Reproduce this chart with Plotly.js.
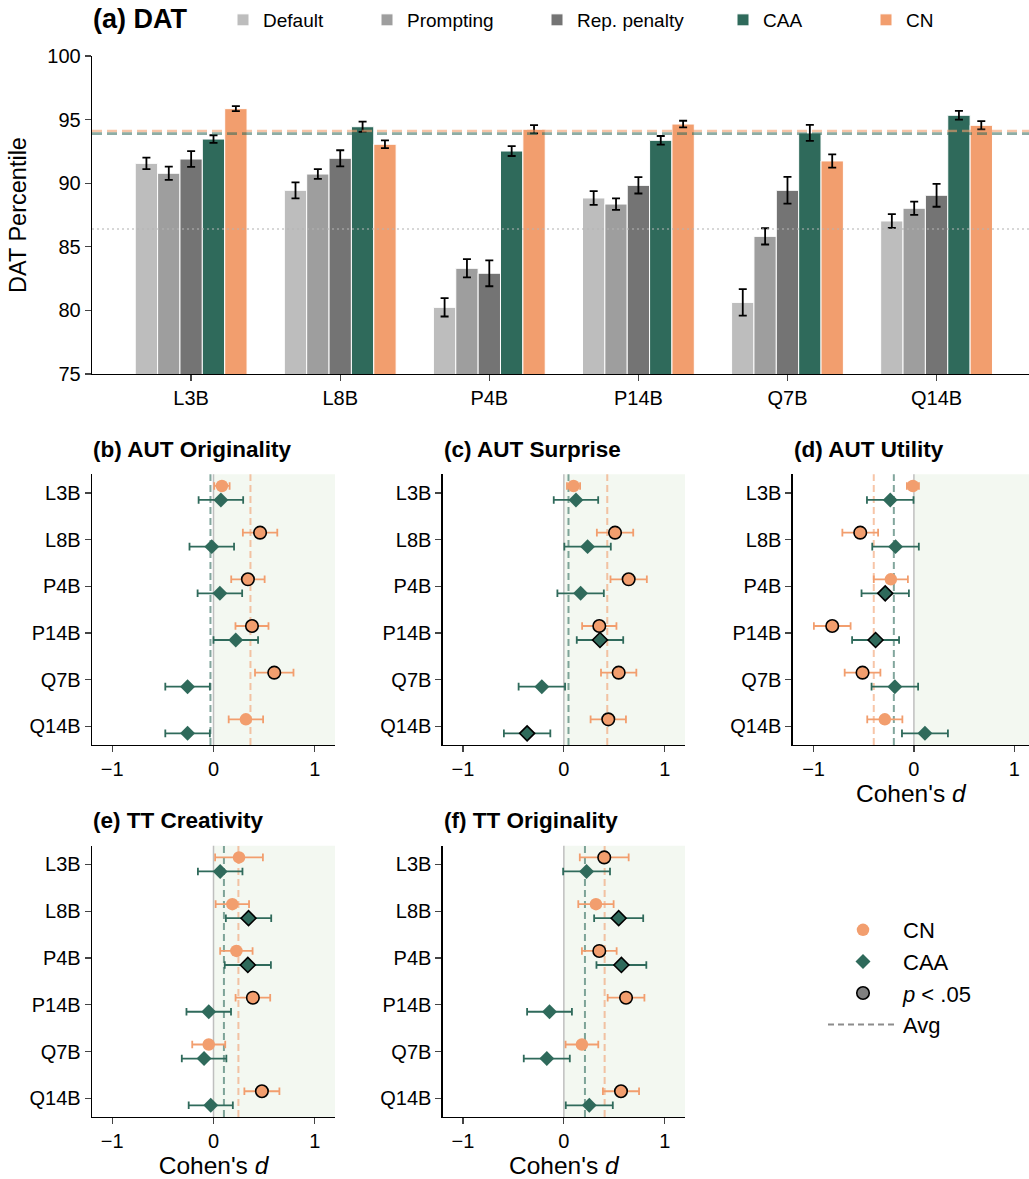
<!DOCTYPE html>
<html><head><meta charset="utf-8">
<script src="https://cdn.plot.ly/plotly-3.0.1.min.js"></script>
<style>html,body{margin:0;padding:0;background:#fff}#chart{width:1029px;height:1179px}</style>
</head><body><div id="chart"></div>
<script>
// ---------------- DATA ----------------
const models = ['L3B','L8B','P4B','P14B','Q7B','Q14B'];
const methods = ['Default','Prompting','Rep. penalty','CAA','CN'];

// (a) DAT percentile
const datDefault    = [91.56, 89.44, 80.24, 88.84, 80.63, 87.03];
const datDefaultErr = [0.45, 0.63, 0.72, 0.54, 1.04, 0.54];
const datPrompt     = [90.78, 90.72, 83.31, 88.36, 85.82, 88.03];
const datPromptErr  = [0.52, 0.38, 0.72, 0.45, 0.64, 0.52];
const datRep        = [91.90, 91.96, 82.92, 89.83, 89.44, 89.05];
const datRepErr     = [0.62, 0.63, 1.02, 0.64, 1.05, 0.90];
const datCAA        = [93.47, 94.44, 92.53, 93.37, 93.95, 95.34];
const datCAAErr     = [0.30, 0.40, 0.39, 0.34, 0.63, 0.34];
const datCN         = [95.86, 93.06, 94.24, 94.65, 91.75, 94.55];
const datCNErr      = [0.20, 0.31, 0.33, 0.26, 0.52, 0.33];
const datAvg = {Default: 86.4, CAA: 93.9, CN: 94.1};

// (b) AUT Originality (Cohen's d)
const origCN      = [0.083, 0.46, 0.34, 0.38, 0.60, 0.32];
const origCNErr   = [0.076, 0.17, 0.165, 0.163, 0.19, 0.17];
const origCNSig   = [0, 1, 1, 1, 1, 0];
const origCAA     = [0.073, -0.017, 0.063, 0.22, -0.256, -0.256];
const origCAAErr  = [0.22, 0.22, 0.22, 0.22, 0.22, 0.22];
const origCAASig  = [0, 0, 0, 0, 0, 0];
const origAvg     = {CN: 0.365, CAA: -0.03};

// (c) AUT Surprise
const surpCN      = [0.096, 0.507, 0.642, 0.351, 0.543, 0.44];
const surpCNErr   = [0.065, 0.18, 0.18, 0.17, 0.175, 0.175];
const surpCNSig   = [0, 1, 1, 1, 1, 1];
const surpCAA     = [0.12, 0.235, 0.166, 0.358, -0.218, -0.364];
const surpCAAErr  = [0.22, 0.23, 0.23, 0.23, 0.23, 0.23];
const surpCAASig  = [0, 0, 0, 1, 0, 1];
const surpAvg     = {CN: 0.43, CAA: 0.046};

// (d) AUT Utility
const utilCN      = [-0.01, -0.535, -0.23, -0.814, -0.512, -0.29];
const utilCNErr   = [0.06, 0.178, 0.17, 0.183, 0.178, 0.175];
const utilCNSig   = [0, 1, 0, 1, 1, 0];
const utilCAA     = [-0.236, -0.183, -0.286, -0.382, -0.19, 0.11];
const utilCAAErr  = [0.232, 0.232, 0.236, 0.234, 0.232, 0.229];
const utilCAASig  = [0, 0, 1, 1, 0, 0];
const utilAvg     = {CN: -0.40, CAA: -0.20};

// (e) TT Creativity
const ttcCN       = [0.252, 0.186, 0.226, 0.389, -0.047, 0.478];
const ttcCNErr    = [0.236, 0.165, 0.16, 0.171, 0.163, 0.173];
const ttcCNSig    = [0, 0, 0, 1, 0, 1];
const ttcCAA      = [0.066, 0.346, 0.339, -0.047, -0.093, -0.027];
const ttcCAAErr   = [0.22, 0.224, 0.228, 0.22, 0.22, 0.218];
const ttcCAASig   = [0, 1, 1, 0, 0, 0];
const ttcAvg      = {CN: 0.246, CAA: 0.103};

// (f) TT Originality
const ttoCN       = [0.40, 0.318, 0.351, 0.616, 0.179, 0.566];
const ttoCNErr    = [0.242, 0.175, 0.172, 0.182, 0.162, 0.179];
const ttoCNSig    = [1, 0, 1, 1, 0, 1];
const ttoCAA      = [0.225, 0.543, 0.57, -0.142, -0.169, 0.252];
const ttoCAAErr   = [0.232, 0.243, 0.247, 0.222, 0.228, 0.233];
const ttoCAASig   = [0, 1, 1, 0, 0, 0];
const ttoAvg      = {CN: 0.404, CAA: 0.209};

// ---------------- STYLE ----------------
const W = 1029, H = 1179;
const FONT = 'Liberation Sans, Arial, Helvetica, sans-serif';
const C = {Default:'#bdbdbd', Prompting:'#9e9e9e', Rep:'#747474', CAA:'#2f6a5b', CN:'#f29e6e'};
const px = v => v / W;
const py = v => 1 - v / H;
const TICK = 20;

const traces = [];
const shapes = [];
const annotations = [];
const layout = {
  width: W, height: H,
  margin: {l:0, r:0, t:0, b:0},
  paper_bgcolor: '#fff', plot_bgcolor: 'rgba(0,0,0,0)',
  font: {family: FONT, color: '#000', size: TICK},
  barmode: 'group', bargap: 0.25, bargroupgap: 0,
  showlegend: true,
  shapes, annotations
};

// ---------------- (a) DAT bars ----------------
const barSeries = [
  ['Default', datDefault, datDefaultErr, C.Default, 'legend'],
  ['Prompting', datPrompt, datPromptErr, C.Prompting, 'legend2'],
  ['Rep. penalty', datRep, datRepErr, C.Rep, 'legend3'],
  ['CAA', datCAA, datCAAErr, C.CAA, 'legend4'],
  ['CN', datCN, datCNErr, C.CN, 'legend5']
];
const legendX = [223, 367, 537, 723, 866];
barSeries.forEach(([name, vals, errs, col, lg], k) => {
  traces.push({
    type: 'bar', name, x: models, y: vals, xaxis: 'x', yaxis: 'y',
    marker: {color: col, line: {color: '#fff', width: 1}},
    error_y: {type: 'data', array: errs, visible: true, color: '#000', thickness: 1.8, width: 4},
    legend: lg, hoverinfo: 'skip'
  });
  layout[lg] = {x: px(legendX[k]), y: py(20), xanchor: 'left', yanchor: 'middle',
    orientation: 'h', font: {size: 19, family: FONT}, bgcolor: 'rgba(0,0,0,0)'};
});

layout.xaxis = {domain: [px(92), 1], anchor: 'y', type: 'category', range: [-0.665, 5.62],
  showline: true, linecolor: '#000', linewidth: 1.3, ticks: 'outside', ticklen: 6, tickwidth: 1.3,
  tickfont: {size: TICK}, showgrid: false, zeroline: false};
layout.yaxis = {domain: [py(374), py(56)], anchor: 'x', range: [75, 100], tickvals: [75,80,85,90,95,100],
  showline: true, linecolor: '#000', linewidth: 1.3, ticks: 'outside', ticklen: 6, tickwidth: 1.3,
  tickfont: {size: TICK}, showgrid: false, zeroline: false,
  title: {text: 'DAT Percentile', font: {size: 23.5}, standoff: 14}};

shapes.push({type:'line', xref:'x domain', yref:'y', x0:0, x1:1, y0:datAvg.Default, y1:datAvg.Default,
  line:{color:'rgba(180,180,180,0.7)', width:1.3, dash:'2px,3px'}, layer:'above'});
shapes.push({type:'line', xref:'x domain', yref:'y', x0:0, x1:1, y0:datAvg.CN, y1:datAvg.CN,
  line:{color:'rgba(242,158,110,0.6)', width:2.6, dash:'10px,5px'}, layer:'above'});
shapes.push({type:'line', xref:'x domain', yref:'y', x0:0, x1:1, y0:datAvg.CAA, y1:datAvg.CAA,
  line:{color:'rgba(47,106,91,0.55)', width:2.6, dash:'10px,5px'}, layer:'above'});

annotations.push({xref:'paper', yref:'paper', x:px(91), y:py(19), xanchor:'left', yanchor:'middle',
  text:'<b>(a) DAT</b>', showarrow:false, font:{size:27}});

// ---------------- forest panels ----------------
const panels = [
  {title:'(b) AUT Originality', cn:origCN, cnE:origCNErr, cnS:origCNSig, caa:origCAA, caaE:origCAAErr, caaS:origCAASig, avg:origAvg,
   left:92, right:335, top:474.3, bottom:745, xr:[-1.2,1.2], xt:false},
  {title:'(c) AUT Surprise', cn:surpCN, cnE:surpCNErr, cnS:surpCNSig, caa:surpCAA, caaE:surpCAAErr, caaS:surpCAASig, avg:surpAvg,
   left:442.7, right:685, top:474.3, bottom:745, xr:[-1.2,1.2], xt:false},
  {title:'(d) AUT Utility', cn:utilCN, cnE:utilCNErr, cnS:utilCNSig, caa:utilCAA, caaE:utilCAAErr, caaS:utilCAASig, avg:utilAvg,
   left:792.7, right:1029, top:474.3, bottom:745, xr:[-1.208,1.147], xt:true},
  {title:'(e) TT Creativity', cn:ttcCN, cnE:ttcCNErr, cnS:ttcCNSig, caa:ttcCAA, caaE:ttcCAAErr, caaS:ttcCAASig, avg:ttcAvg,
   left:92, right:335, top:845.7, bottom:1117, xr:[-1.2,1.2], xt:true},
  {title:'(f) TT Originality', cn:ttoCN, cnE:ttoCNErr, cnS:ttoCNSig, caa:ttoCAA, caaE:ttoCAAErr, caaS:ttoCAASig, avg:ttoAvg,
   left:442.7, right:685, top:845.7, bottom:1117, xr:[-1.2,1.2], xt:true}
];

const idx = models.map((m, i) => i);
panels.forEach((p, k) => {
  const n = k + 2;
  const xa = 'x' + n, ya = 'y' + n;
  layout['xaxis' + n] = {domain:[px(p.left), px(p.right)], anchor: ya, range: p.xr,
    tickvals:[-1,0,1], showline:true, linecolor:'#000', linewidth:1.3, ticks:'outside', ticklen:6, tickwidth:1.3,
    tickfont:{size:TICK}, showgrid:false, zeroline:false,
    title: p.xt ? {text:"Cohen's <i>d</i>", font:{size:24.5}, standoff:2} : undefined};
  layout['yaxis' + n] = {domain:[py(p.bottom), py(p.top)], anchor: xa, range:[5.4, -0.4],
    tickvals: idx, ticktext: models, showline:true, linecolor:'#000', linewidth:1.3, ticks:'outside', ticklen:6, tickwidth:1.3,
    tickfont:{size:TICK}, showgrid:false, zeroline:false};

  // shaded positive region, zero line, averages
  shapes.push({type:'rect', xref:xa, yref:ya + ' domain', x0:0, x1:p.xr[1], y0:0, y1:1,
    fillcolor:'#f3f8f1', line:{width:0}, layer:'below'});
  shapes.push({type:'line', xref:xa, yref:ya + ' domain', x0:0, x1:0, y0:0, y1:1,
    line:{color:'#bfbfbf', width:1.5}, layer:'below'});
  shapes.push({type:'line', xref:xa, yref:ya + ' domain', x0:p.avg.CAA, x1:p.avg.CAA, y0:0, y1:1,
    line:{color:'rgba(47,106,91,0.6)', width:2, dash:'7px,4px'}, layer:'below'});
  shapes.push({type:'line', xref:xa, yref:ya + ' domain', x0:p.avg.CN, x1:p.avg.CN, y0:0, y1:1,
    line:{color:'rgba(242,158,110,0.6)', width:2, dash:'7px,4px'}, layer:'below'});

  traces.push({type:'scatter', mode:'markers', xaxis:xa, yaxis:ya, showlegend:false, hoverinfo:'skip',
    x: p.cn, y: idx.map(i => i - 0.15),
    error_x:{type:'data', array:p.cnE, visible:true, color:C.CN, thickness:1.8, width:3.8},
    marker:{symbol:'circle', size:12.5, color:C.CN, line:{color:'#000', width:p.cnS.map(s => s ? 1.6 : 0)}}});
  traces.push({type:'scatter', mode:'markers', xaxis:xa, yaxis:ya, showlegend:false, hoverinfo:'skip',
    x: p.caa, y: idx.map(i => i + 0.15),
    error_x:{type:'data', array:p.caaE, visible:true, color:C.CAA, thickness:1.8, width:3.8},
    marker:{symbol:'diamond', size:11.5, color:C.CAA, line:{color:'#000', width:p.caaS.map(s => s ? 1.6 : 0)}}});

  annotations.push({xref:'paper', yref:'paper', x:px(p.left - 1), y:py(p.top - 25), xanchor:'left', yanchor:'middle',
    text:'<b>' + p.title + '</b>', showarrow:false, font:{size:22.5}});
});

// ---------------- forest legend ----------------
const lgCommon = {type:'scatter', x:[null], y:[null], xaxis:'x2', yaxis:'y2', legend:'legend6', hoverinfo:'skip'};
traces.push(Object.assign({}, lgCommon, {name:'CN', mode:'markers', legendgroup:'a',
  marker:{symbol:'circle', size:12.5, color:C.CN}}));
traces.push(Object.assign({}, lgCommon, {name:'CAA', mode:'markers', legendgroup:'b',
  marker:{symbol:'diamond', size:11.5, color:C.CAA}}));
traces.push(Object.assign({}, lgCommon, {name:'<i>p</i> < .05', mode:'markers', legendgroup:'c',
  marker:{symbol:'circle', size:12.5, color:'#808080', line:{color:'#000', width:1.6}}}));
traces.push(Object.assign({}, lgCommon, {name:'Avg', mode:'lines', legendgroup:'d',
  line:{color:'#8c8c8c', width:2, dash:'6px,4px'}}));
layout.legend6 = {x:px(823), y:py(909), xanchor:'left', yanchor:'top', orientation:'v',
  font:{size:22, family:FONT}, bgcolor:'rgba(0,0,0,0)', tracegroupgap:0, itemwidth:70};

Plotly.newPlot('chart', traces, layout, {staticPlot:true});
</script>
</body></html>
